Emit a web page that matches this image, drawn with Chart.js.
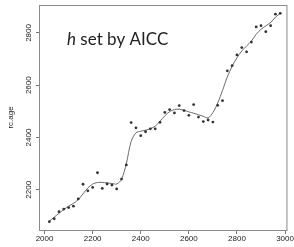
<!DOCTYPE html>
<html>
<head>
<meta charset="utf-8">
<script src="https://cdn.jsdelivr.net/npm/chart.js@4"></script>
<style>
  html, body { margin: 0; padding: 0; background: #fff; }
  #wrap { width: 294px; height: 247px; position: relative; }
</style>
</head>
<body>
<div id="wrap"><canvas id="chart"></canvas></div>
<script>
// observed points (rc.age vs depth)
const depth = [2020, 2040, 2060, 2080, 2100, 2120, 2140, 2160, 2180, 2200,
  2220, 2240, 2260, 2280, 2300, 2320, 2340, 2360, 2380, 2400,
  2420, 2440, 2460, 2480, 2500, 2520, 2540, 2560, 2580, 2600,
  2620, 2640, 2660, 2680, 2700, 2720, 2740, 2760, 2780, 2800,
  2820, 2840, 2860, 2880, 2900, 2920, 2940, 2960, 2980];
const rcAge = [2078, 2089, 2116, 2126, 2132, 2137, 2165, 2221, 2196, 2209,
  2265, 2205, 2222, 2218, 2203, 2241, 2295, 2457, 2437, 2407,
  2422, 2433, 2433, 2458, 2496, 2507, 2494, 2522, 2503, 2485,
  2526, 2478, 2461, 2467, 2459, 2523, 2541, 2655, 2675, 2716,
  2744, 2728, 2765, 2823, 2828, 2805, 2828, 2872, 2875];
// smoothed fit (h set by AICC)
const fitAge = [2080, 2095, 2110, 2124, 2137, 2148, 2162, 2185, 2207, 2222,
  2228, 2228, 2226, 2224, 2222, 2240, 2300, 2385, 2418, 2424,
  2428, 2434, 2443, 2462, 2483, 2499, 2507, 2508, 2504, 2498,
  2493, 2487, 2481, 2475, 2495, 2532, 2580, 2632, 2673, 2705,
  2731, 2750, 2769, 2795, 2814, 2827, 2840, 2860, 2875];

const xTicks = [2000, 2200, 2400, 2600, 2800, 3000];
const yTicks = [2200, 2400, 2600, 2800];

const boxPlugin = {
  id: 'box',
  afterDraw(chart) {
    const { ctx, chartArea: a } = chart;
    ctx.save();
    ctx.strokeStyle = '#8a8a8a';
    ctx.lineWidth = 1;
    ctx.strokeRect(a.left - 0.5, a.top + 0.5, a.right - a.left, a.bottom - a.top);
    // annotation text
    ctx.fillStyle = '#222';
    ctx.textBaseline = 'alphabetic';
    ctx.font = 'italic 17px Lato';
    ctx.fillText('h', a.left + 27, a.top + 40);
    const w = ctx.measureText('h').width;
    ctx.font = '17px Lato';
    ctx.fillText(' set by AICC', a.left + 27 + w, a.top + 40);
    ctx.restore();
  }
};

const tickFont = { family: 'Liberation Sans', size: 8 };
const plain = v => String(v);

new Chart(document.getElementById('chart').getContext('2d'), {
  type: 'scatter',
  data: {
    datasets: [{
      type: 'line',
      data: depth.map((d, i) => ({ x: d, y: fitAge[i] })),
      borderColor: '#6a6a6a',
      borderWidth: 1,
      pointRadius: 0,
      fill: false,
      tension: 0.3,
      order: 2,
    }, {
      data: depth.map((d, i) => ({ x: d, y: rcAge[i] })),
      backgroundColor: '#333',
      borderColor: '#333',
      borderWidth: 0,
      pointRadius: 1.4,
      order: 1,
    }]
  },
  options: {
    responsive: true, maintainAspectRatio: false, animation: false,
    layout: { padding: { top: 5, right: 6, left: 0, bottom: 0 } },
    plugins: { legend: { display: false }, tooltip: { enabled: false } },
    scales: {
      x: {
        type: 'linear', min: 1981, max: 3010,
        afterBuildTicks: s => { s.ticks = xTicks.map(v => ({ value: v })); },
        afterFit: s => { s.height = 17; },
        ticks: { color: '#222', font: tickFont, padding: 0, maxRotation: 0, autoSkip: false, callback: plain },
        grid: { drawOnChartArea: false, drawTicks: true, tickLength: 4, color: '#777' },
        border: { display: false },
      },
      y: {
        min: 2046, max: 2907,
        afterBuildTicks: s => { s.ticks = yTicks.map(v => ({ value: v })); },
        afterFit: s => { s.width = 40; },
        ticks: { color: '#222', font: tickFont, padding: -2, minRotation: 90, maxRotation: 90, crossAlign: 'center', autoSkip: false, callback: plain },
        grid: { drawOnChartArea: false, drawTicks: true, tickLength: 4, color: '#777' },
        border: { display: false },
        title: { display: true, text: 'rc.age', color: '#222', font: { family: 'Liberation Sans', size: 8 }, padding: { top: 6, bottom: 0 } },
      }
    }
  },
  plugins: [boxPlugin]
});
</script>
</body>
</html>
